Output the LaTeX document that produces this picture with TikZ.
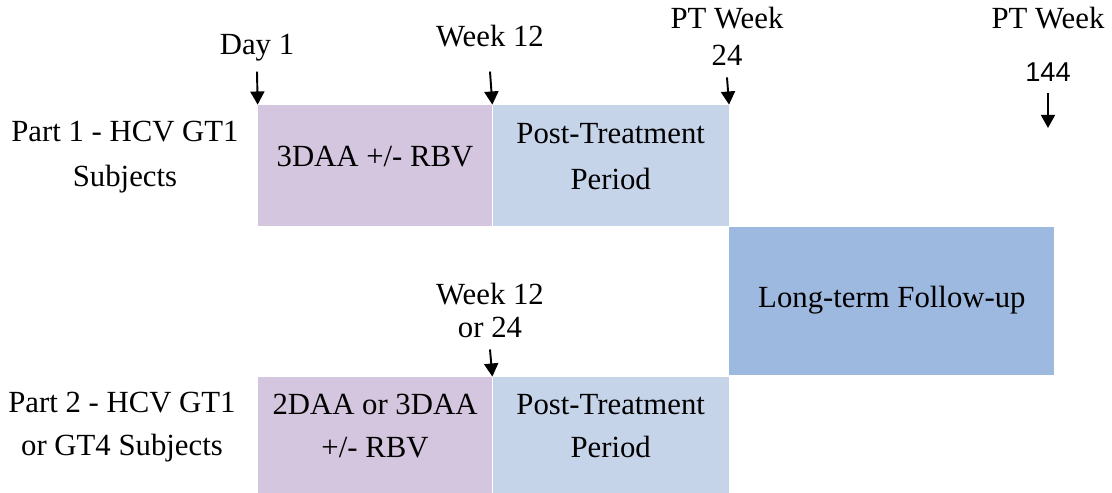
\documentclass[tikz,border=0pt]{standalone}
\usepackage{fontspec}
\setmainfont{Liberation Serif}
\newfontfamily\numfont{Liberation Sans}
\usetikzlibrary{positioning,arrows.meta}

\definecolor{treatcol}{RGB}{213,198,223}
\definecolor{postcol}{RGB}{198,212,234}
\definecolor{ltfucol}{RGB}{158,185,224}

\tikzset{
  period/.style={inner sep=0pt, align=center, text depth=10pt, font=\fontsize{17.5}{26}\selectfont},
  treat/.style={period, fill=treatcol, minimum width=46.8mm},
  post/.style={period, fill=postcol, minimum width=47.2mm},
  ltfu/.style={period, fill=ltfucol, minimum width=65mm, minimum height=29.6mm},
  tick/.style={align=center, text depth=0.3em, font=\fontsize{17.5}{21.5}\selectfont},
  partlbl/.style={align=center, font=\fontsize{17.5}{26}\selectfont},
  arr/.style={line width=1.1pt, -{Triangle[length=7.5pt,width=8pt]}}
}

\begin{document}
\begin{tikzpicture}[x=0.2mm, y=-0.2mm]
\useasboundingbox (0,0) rectangle (1112,493);

% Part 1 row
\node[treat, minimum height=24.2mm] (t1) at (375,165.5) {3DAA +/- RBV};
\node[post, minimum height=24.2mm, right=0pt of t1] (p1) {Post-Treatment\\Period};
\node[partlbl] (part1) at (125,157) {Part 1 - HCV GT1\\Subjects};

% long-term follow-up
\node[ltfu, anchor=north west, text depth=4pt] (lt) at (p1.south east) {Long-term Follow-up};

% Part 2 row
\node[treat, minimum height=23.2mm, font=\fontsize{17.5}{24.4}\selectfont] (b1) at (375,435) {2DAA or 3DAA\\+/- RBV};
\node[post, minimum height=23.2mm, font=\fontsize{17.5}{24.4}\selectfont, right=0pt of b1] (b2) {Post-Treatment\\Period};
\node[partlbl, font=\fontsize{17.5}{24.4}\selectfont] (part2) at (122,427) {Part 2 - HCV GT1\\or GT4 Subjects};

% time points
\node[tick, text depth=0.6em] (day) at (257,50) {Day 1};
\node[tick, text depth=1.1em] (wk12) at (490,45) {Week 12};
\node[tick] (pt24) at (727,39) {PT Week\\24};
\node[tick] (pt144) at (1048,47) {PT Week\\[9pt]{\numfont\fontsize{15.5}{17}\selectfont 144\hspace{0.6em}}};
\node[tick, font=\fontsize{17.5}{19.3}\selectfont] (wk24) at (490,313) {Week 12\\or 24};
\coordinate (end144) at (1048,128);

\draw[arr] (day.south) -- (t1.north west);
\draw[arr] (wk12.south) -- (t1.north east);
\draw[arr] (pt24.south) -- (p1.north east);
\draw[arr] (pt144.south) -- (end144);
\draw[arr] (wk24.south) -- (b1.north east);
\end{tikzpicture}
\end{document}
